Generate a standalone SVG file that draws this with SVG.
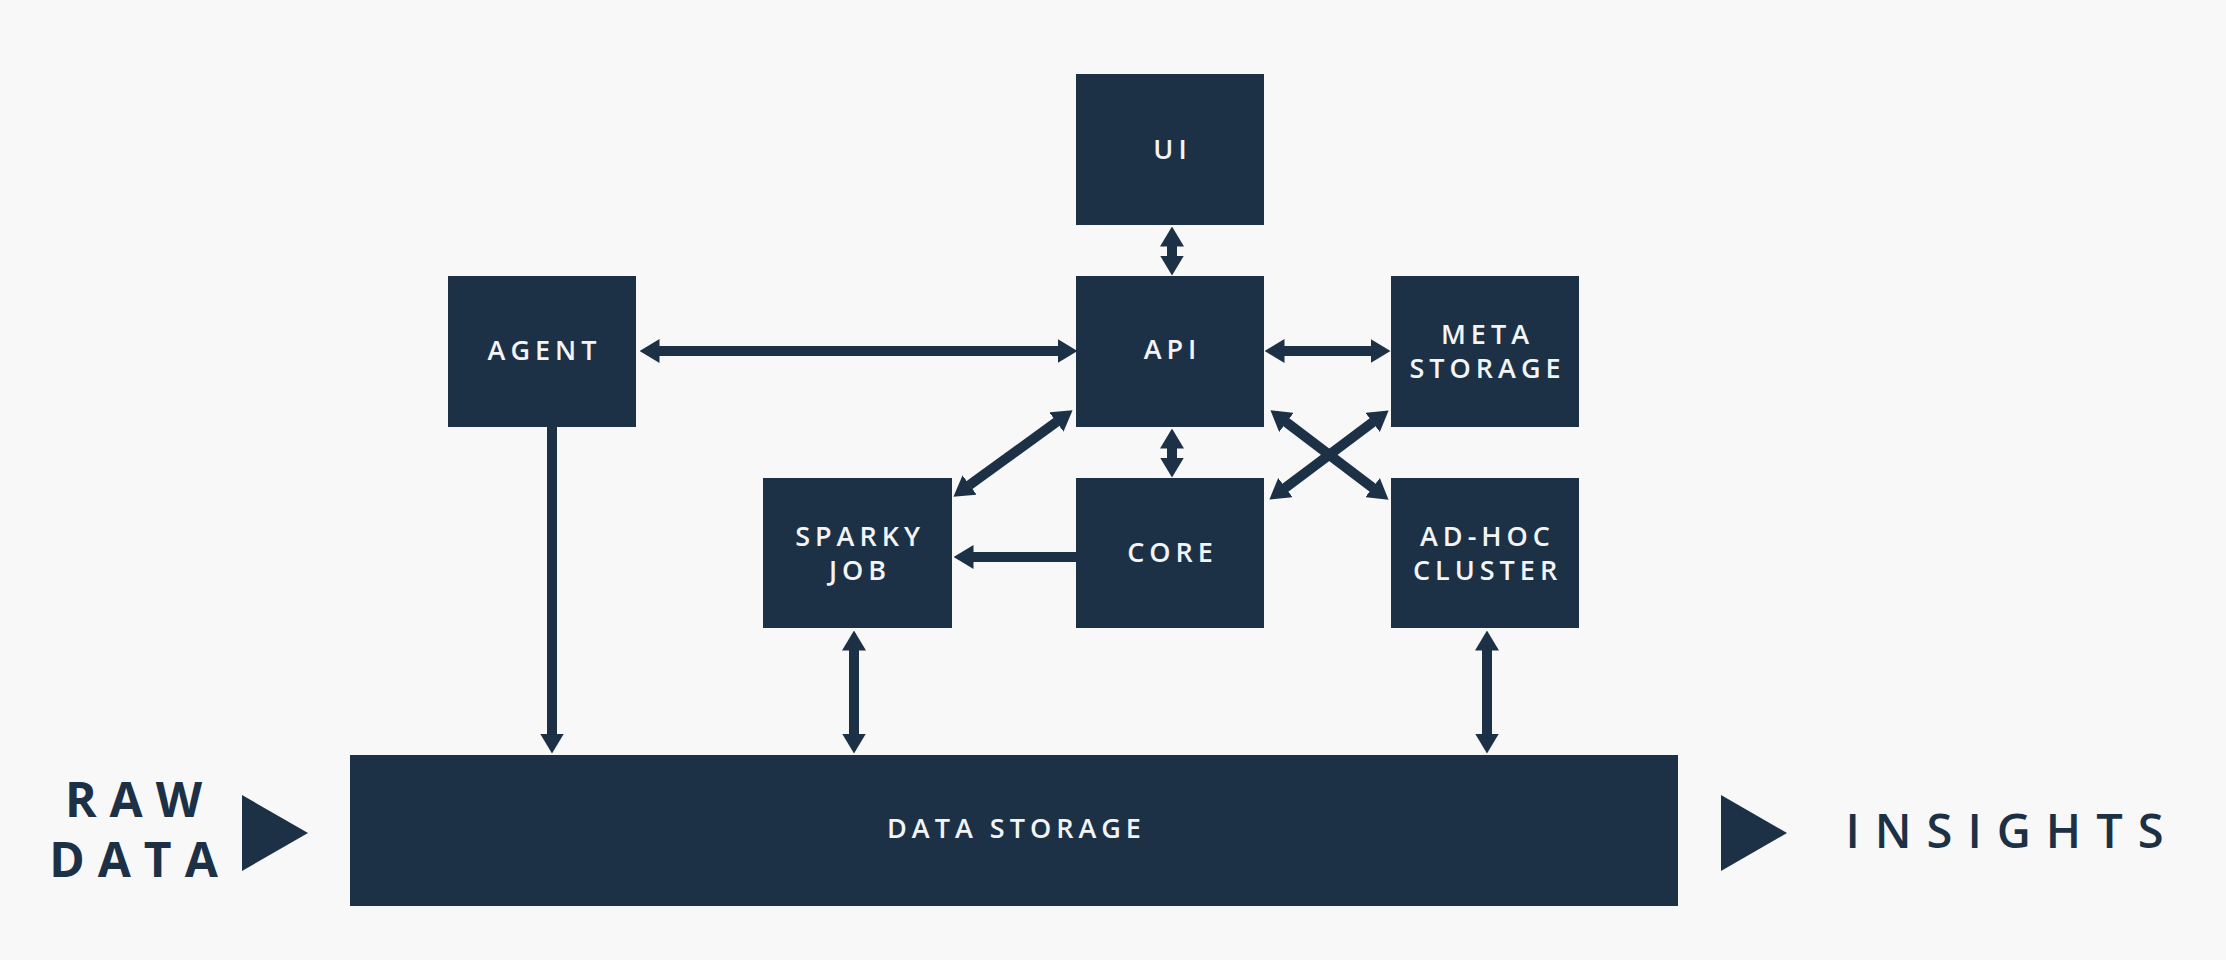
<svg xmlns="http://www.w3.org/2000/svg" width="2226" height="960" viewBox="0 0 2226 960">
<style>
.box{fill:#1d3146}
.lbl{font-family:"Open Sans","Liberation Sans",sans-serif;font-weight:600;font-size:27px;letter-spacing:5px;fill:#f2f4f6;text-anchor:middle}
.ext{font-family:"Open Sans","Liberation Sans",sans-serif;fill:#1d3146;text-anchor:middle}
.c{stroke:#1d3146;stroke-width:10;fill:none;stroke-linecap:butt}
.two{marker-start:url(#h);marker-end:url(#h)}
.one{marker-end:url(#h)}
</style>
<defs>
<marker id="h" markerUnits="userSpaceOnUse" viewBox="0 -12 20 24" markerWidth="20" markerHeight="24" refX="0.5" refY="0" orient="auto-start-reverse">
<path d="M0,-12 L20,0 L0,12 Z" fill="#1d3146"/>
</marker>
</defs>
<rect width="2226" height="960" fill="#f8f8f8"/>

<g id="connectors">
<line class="c two" x1="659" y1="351" x2="1058" y2="351"/>
<line class="c two" x1="1172" y1="246" x2="1172" y2="256"/>
<line class="c two" x1="1284" y1="351" x2="1371" y2="351"/>
<line class="c two" x1="1172" y1="448" x2="1172" y2="458"/>
<line class="c two" x1="1056.8" y1="421.7" x2="969.2" y2="485.3"/>
<line class="c one" x1="1076" y1="557" x2="973" y2="557"/>
<line class="c two" x1="1286" y1="422.1" x2="1373" y2="487.9"/>
<line class="c two" x1="1373" y1="422.1" x2="1285" y2="487.9"/>
<line class="c one" x1="552" y1="427" x2="552" y2="734"/>
<line class="c two" x1="854" y1="650" x2="854" y2="734"/>
<line class="c two" x1="1487" y1="650" x2="1487" y2="734"/>
</g>

<g id="ui"><rect class="box" x="1076" y="74" width="188" height="151"/><text class="lbl" x="1172.5" y="159">UI</text></g>
<g id="agent"><rect class="box" x="448" y="276" width="188" height="151"/><text class="lbl" x="544.5" y="360">AGENT</text></g>
<g id="api"><rect class="box" x="1076" y="276" width="188" height="151"/><text class="lbl" x="1172.5" y="359">API</text></g>
<g id="meta-storage"><rect class="box" x="1391" y="276" width="188" height="151"/><text class="lbl" x="1487.5" y="344">META</text><text class="lbl" x="1487.5" y="378">STORAGE</text></g>
<g id="sparky-job"><rect class="box" x="763" y="478" width="189" height="150"/><text class="lbl" x="860" y="546">SPARKY</text><text class="lbl" x="860" y="580">JOB</text></g>
<g id="core"><rect class="box" x="1076" y="478" width="188" height="150"/><text class="lbl" x="1172.5" y="562">CORE</text></g>
<g id="ad-hoc-cluster"><rect class="box" x="1391" y="478" width="188" height="150"/><text class="lbl" x="1487.5" y="546">AD-HOC</text><text class="lbl" x="1487.5" y="580">CLUSTER</text></g>
<g id="data-storage"><rect class="box" x="350" y="755" width="1328" height="151"/><text class="lbl" x="1016.5" y="838">DATA STORAGE</text></g>

<g id="raw-data">
<text class="ext" x="140" y="817" font-size="48" font-weight="700" letter-spacing="13">RAW</text>
<text class="ext" x="140" y="877" font-size="48" font-weight="700" letter-spacing="13">DATA</text>
<polygon points="242,795 308,833 242,871" fill="#1d3146"/>
</g>
<g id="insights">
<polygon points="1721,795 1787,833 1721,871" fill="#1d3146"/>
<text class="ext" x="2012" y="848" font-size="47" font-weight="600" letter-spacing="15">INSIGHTS</text>
</g>
</svg>
